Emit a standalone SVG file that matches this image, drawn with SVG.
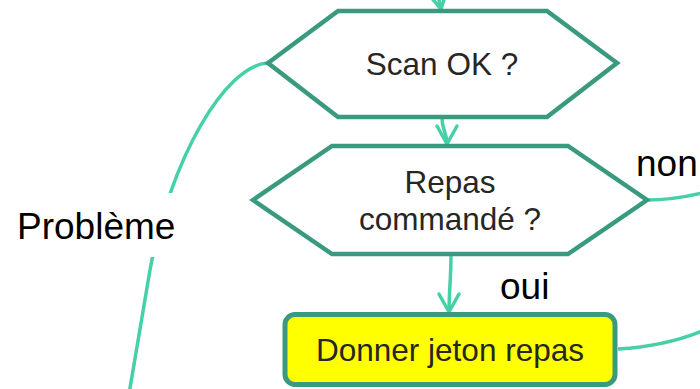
<svg xmlns="http://www.w3.org/2000/svg" width="700" height="389" viewBox="0 0 700 389">
<defs>
<style>
.node{fill:#ffffff;stroke:#3a9a7f;stroke-width:4.5;stroke-linejoin:miter}
.proc{fill:#ffff00;stroke:#3a9a7f;stroke-width:5}
.ntext{font-family:"Liberation Sans",Arial,sans-serif;font-size:31.5px;fill:#262626;text-anchor:middle}
.label{font-family:"Liberation Sans",Arial,sans-serif;font-size:37px;fill:#000000}
.conn{fill:none;stroke:#45d0a8;stroke-width:3.5}
.arr{marker-end:url(#arrow)}
</style>
<marker id="arrow" markerUnits="userSpaceOnUse" markerWidth="30" markerHeight="30" viewBox="-22 -15 30 30" refX="0" refY="0" orient="auto">
<path d="M-18,-10 L0,0 L-18,10" fill="none" stroke="#45d0a8" stroke-width="3.5" stroke-linecap="round" stroke-linejoin="round"/>
</marker>
</defs>
<g id="connectors">
<path class="conn arr" d="M432,-22 Q438,-6 441,9"/>
<path class="conn arr" d="M442,118 C442,131 447,132 447,144"/>
<path class="conn arr" d="M451,254 C451,280 449,290 449,312"/>
<path class="conn" d="M647,200 C665,200 685,197 702,193"/>
<path class="conn" d="M618,349 C650,347 680,340 702,331"/>
<path class="conn" d="M268,63 C225,65 170,160 150,270 L128,400"/>
</g>
<g id="label-probleme">
<rect x="12" y="193" width="166" height="64" fill="#ffffff"/>
<text class="label" x="17" y="239">Problème</text>
</g>
<g id="label-non"><text class="label" x="636" y="176">non</text></g>
<g id="label-oui"><text class="label" x="500" y="299">oui</text></g>
<g id="node-scan">
<polygon class="node" points="268,63 338,11 547,11 617,63 547,117 338,117"/>
<text class="ntext" x="442" y="75">Scan OK ?</text>
</g>
<g id="node-repas">
<polygon class="node" points="253,200 332,146 568,146 647,200 568,254 332,254"/>
<text class="ntext" x="450" y="193">Repas</text>
<text class="ntext" x="450" y="230">commandé ?</text>
</g>
<g id="node-jeton">
<rect class="proc" x="285" y="314.5" width="330" height="70" rx="10" ry="10"/>
<text class="ntext" x="450" y="361">Donner jeton repas</text>
</g>
</svg>
